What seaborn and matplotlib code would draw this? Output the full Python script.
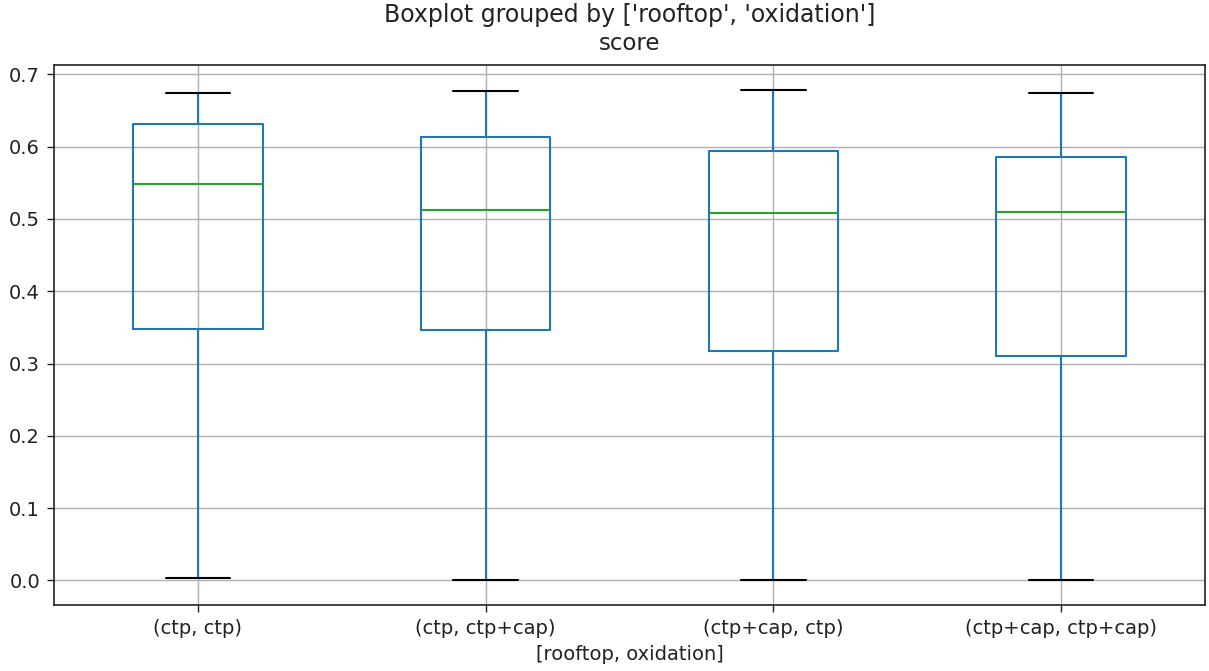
import numpy as np
import pandas as pd
import matplotlib
matplotlib.use("Agg")
import matplotlib.pyplot as plt
import seaborn as sns

# Group labels (rooftop, oxidation)
groups = ["(ctp, ctp)", "(ctp, ctp+cap)", "(ctp+cap, ctp)", "(ctp+cap, ctp+cap)"]

# Five-number summaries: min, Q1, median, Q3, max
score_ctp_ctp = [0.003, 0.348, 0.549, 0.632, 0.674]
score_ctp_ctpcap = [0.000, 0.346, 0.513, 0.613, 0.677]
score_ctpcap_ctp = [0.000, 0.318, 0.508, 0.594, 0.679]
score_ctpcap_ctpcap = [0.000, 0.311, 0.510, 0.586, 0.674]

yticks = [0.0, 0.1, 0.2, 0.3, 0.4, 0.5, 0.6, 0.7]

series = [score_ctp_ctp, score_ctp_ctpcap, score_ctpcap_ctp, score_ctpcap_ctpcap]
df = pd.DataFrame({
    "group": np.repeat(groups, [len(s) for s in series]),
    "score": np.concatenate(series),
})

sns.set_style("white")
plt.rcParams["font.family"] = ["DejaVu Sans"]

fig = plt.figure(figsize=(12.09, 6.71), dpi=100)
ax_left, ax_right = 54 / 1209, 1205 / 1209
ax = fig.add_axes([ax_left, 1 - 605 / 671, ax_right - ax_left, (605 - 65) / 671])

blue = "#1f77b4"
sns.boxplot(
    data=df, x="group", y="score", order=groups, ax=ax,
    fill=False, width=0.45, whis=np.inf, linecolor=blue, linewidth=1.5,
    medianprops=dict(color="#2ca02c", linewidth=1.5),
    capprops=dict(color="black", linewidth=1.5),
    whiskerprops=dict(color=blue, linewidth=1.5),
    boxprops=dict(color=blue, linewidth=1.5),
    capwidths=0.225,
)

ax.set_xlim(-0.5, 3.5)
ax.set_ylim(-0.034, 0.713)
ax.set_yticks(yticks)
ax.set_yticklabels([f"{v:.1f}" for v in yticks])
ax.grid(True, color="#b0b0b0", linewidth=1.0)
ax.set_axisbelow(True)
for sp in ax.spines.values():
    sp.set_visible(True)
    sp.set_color("#222222")
    sp.set_linewidth(1.2)
ax.tick_params(axis="both", which="both", length=5, width=1.0, color="#222222",
               labelsize=14, labelcolor="#222222", bottom=True, left=True, pad=5)
ax.set_xlabel("[rooftop, oxidation]", fontsize=14, color="#222222", labelpad=5)
ax.set_ylabel("")
ax.set_title("score", fontsize=16.5, color="#222222", pad=11)
fig.suptitle("Boxplot grouped by ['rooftop', 'oxidation']", fontsize=17,
             color="#222222", x=(ax_left + ax_right) / 2, y=0.995)

fig.savefig("out.png", dpi=100)
